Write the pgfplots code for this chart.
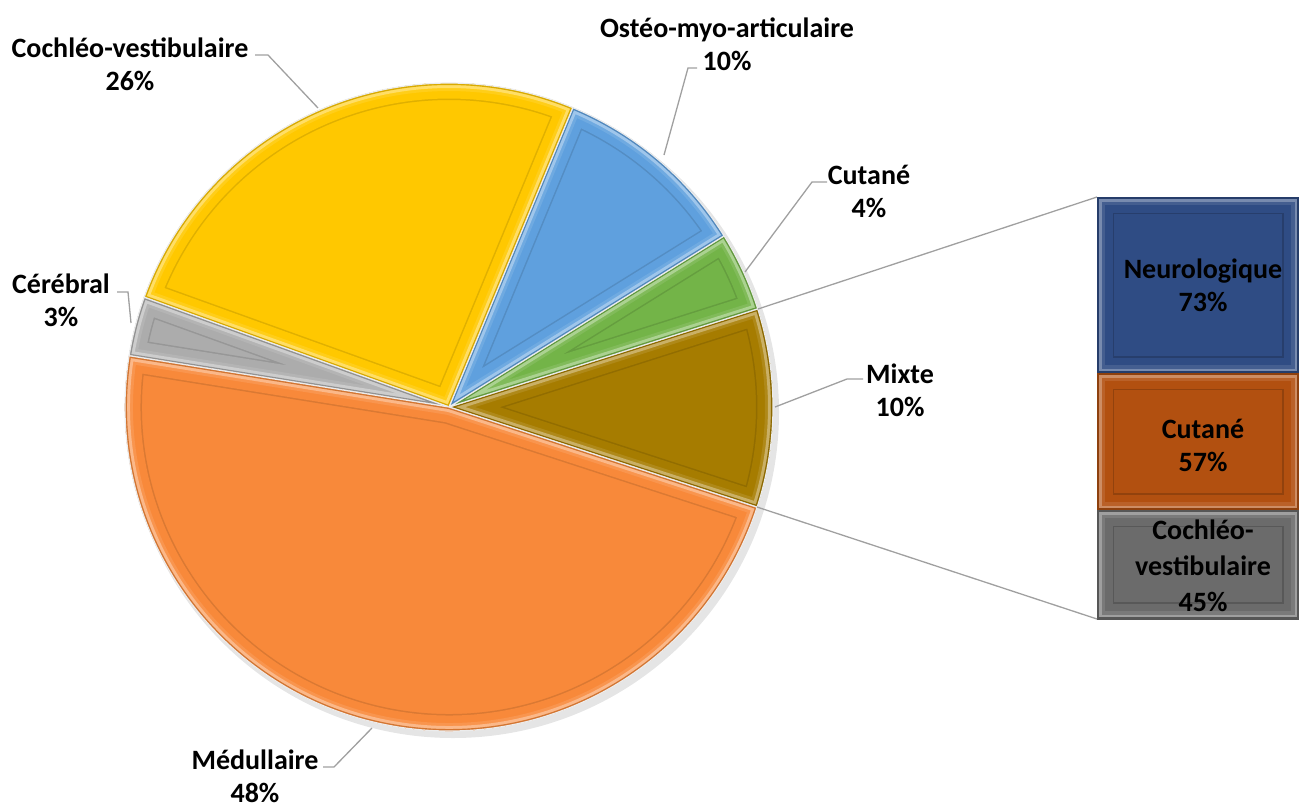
\documentclass[border=0pt]{standalone}
\usepackage{pgfplots}
\usepackage{pgfplotstable}
\pgfplotsset{compat=1.18}
\usepackage{fontspec}
\setmainfont{Carlito}

\definecolor{cMed}{RGB}{248,137,58}
\definecolor{cCer}{RGB}{172,172,172}
\definecolor{cCoc}{RGB}{255,200,0}
\definecolor{cOst}{RGB}{95,160,222}
\definecolor{cCut}{RGB}{115,180,72}
\definecolor{cMix}{RGB}{166,124,0}
\definecolor{cNeu}{RGB}{47,76,132}
\definecolor{cCutB}{RGB}{178,80,16}
\definecolor{cCocB}{RGB}{107,107,107}
\definecolor{lead}{RGB}{160,160,160}
\tikzset{lbl/.style={font=\fontsize{28}{33}\selectfont\bfseries, align=center, text=black}}

% pie: Mixte, Cutané, Ostéo-myo-articulaire, Cochléo-vestibulaire, Cérébral, Médullaire
\pgfplotstableread{
value col
10 cMix
4  cCut
10 cOst
26 cCoc
3  cCer
48 cMed
}\pietable
% bar of pie: Neurologique, Cutané, Cochléo-vestibulaire
\pgfplotstableread{
value col
73 cNeu
57 cCutB
45 cCocB
}\bartable

\begin{document}
\begin{tikzpicture}
\begin{axis}[
  width=1299pt, height=807pt, scale only axis,
  xmin=0, xmax=1299, ymin=0, ymax=807, y dir=reverse,
  hide axis, clip=false,
]
\pgfplotsextra{%
  \path (axis cs:0,0) rectangle (axis cs:1299,807);
  \fill[black,opacity=0.10] (axis cs:453,412) circle[radius=326pt];
  \gdef\startang{-18}%
  \pgfplotstableforeachcolumnelement{value}\of\pietable\as\val{%
    \pgfplotstablegetelem{\pgfplotstablerow}{col}\of\pietable
    \edef\col{\pgfplotsretval}%
    \pgfmathsetmacro\endang{\startang+\val/101*360}%
    \edef\slice{(axis cs:449,407) -- ++(\startang:324pt) arc[start angle=\startang,end angle=\endang,radius=324pt] -- cycle}%
    \begin{scope}
      \clip \slice;
      \fill[\col] \slice;
      \draw[line width=34pt,\col!88!black] \slice;
      \draw[line width=31pt,\col] \slice;
      \draw[line width=16pt,\col!90!white] \slice;
      \draw[line width=10pt,\col!60!white] \slice;
      \draw[line width=4pt,\col!85!black] \slice;
    \end{scope}
    \draw[white!85!gray,line width=1.2pt] \slice;
    \xdef\startang{\endang}%
  }%
  \gdef\ytop{197}%
  \pgfplotstableforeachcolumnelement{value}\of\bartable\as\val{%
    \pgfplotstablegetelem{\pgfplotstablerow}{col}\of\bartable
    \edef\col{\pgfplotsretval}%
    \pgfmathsetmacro\ybot{\ytop+\val/175*422}%
    \edef\seg{(axis cs:1097,\ytop) rectangle (axis cs:1299,\ybot)}%
    \begin{scope}
      \clip \seg;
      \fill[\col] \seg;
      \draw[line width=34pt,\col!82!black] \seg;
      \draw[line width=31pt,\col] \seg;
      \draw[line width=16pt,\col!90!white] \seg;
      \draw[line width=9pt,\col!65!white] \seg;
      \draw[line width=4pt,\col!80!black] \seg;
    \end{scope}
    \xdef\ytop{\ybot}%
  }%
}
% leader lines
\draw[lead, line width=1.3pt] (axis cs:255,55) -- (axis cs:268,55) -- (axis cs:318,108);
\draw[lead, line width=1.3pt] (axis cs:697,68) -- (axis cs:688,68) -- (axis cs:664,155);
\draw[lead, line width=1.3pt] (axis cs:827,182) -- (axis cs:812,182) -- (axis cs:745,272);
\draw[lead, line width=1.3pt] (axis cs:863,379) -- (axis cs:847,379) -- (axis cs:775,407);
\draw[lead, line width=1.3pt] (axis cs:117,292) -- (axis cs:128,292) -- (axis cs:131,323);
\draw[lead, line width=1.3pt] (axis cs:323,767) -- (axis cs:334,767) -- (axis cs:372,728);
\draw[lead, line width=1.3pt] (axis cs:758,309) -- (axis cs:1097,197);
\draw[lead, line width=1.3pt] (axis cs:757,507) -- (axis cs:1097,619);
% labels
\node[lbl] at (axis cs:727,44) {Ostéo-myo-articulaire\\10\%};
\node[lbl] at (axis cs:130,64) {Cochléo-vestibulaire\\26\%};
\node[lbl] at (axis cs:869,191) {Cutané\\4\%};
\node[lbl] at (axis cs:900,390) {Mixte\\10\%};
\node[lbl] at (axis cs:61,300) {Cérébral\\3\%};
\node[lbl] at (axis cs:255,776) {Médullaire\\48\%};
\node[lbl] at (axis cs:1203,285) {Neurologique\\73\%};
\node[lbl] at (axis cs:1203,445) {Cutané\\57\%};
\node[lbl, font=\fontsize{28}{36}\selectfont\bfseries] at (axis cs:1203,566) {Cochléo-\\vestibulaire\\45\%};
\end{axis}
\end{tikzpicture}
\end{document}
